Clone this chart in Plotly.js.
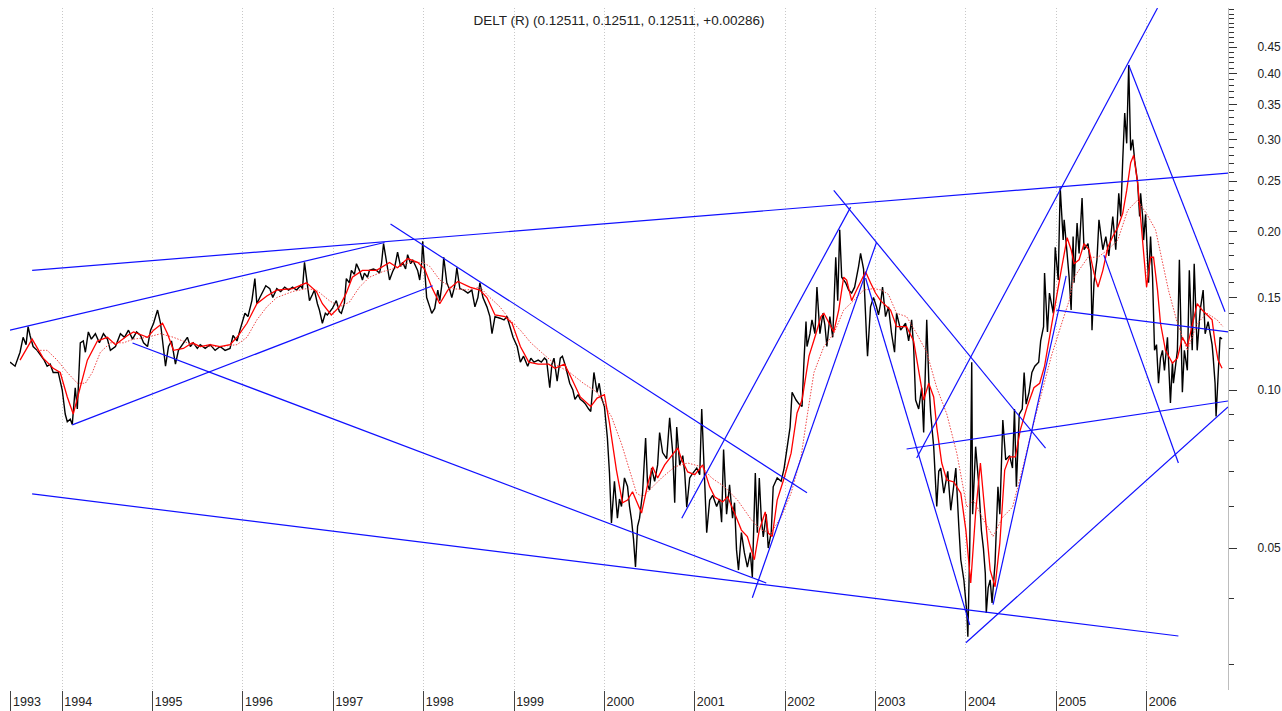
<!DOCTYPE html>
<html><head><meta charset="utf-8">
<script src="https://cdn.plot.ly/plotly-3.0.1.min.js"></script>
<style>html,body{margin:0;padding:0;background:#fff}#chart{width:1282px;height:711px}</style>
</head><body><div id="chart"></div>
<script>
// ---- DATA (time in decimal years, value) ----
const title = 'DELT (R) (0.12511, 0.12511, 0.12511, +0.00286)';
const yearLabels = ['1993','1994','1995','1996','1997','1998','1999','2000','2001','2002','2003','2004','2005','2006'];
const yearTickVals = [1993.433,1994,1995,1996,1997,1998,1999,2000,2001,2002,2003,2004,2005,2006];
const yMajorTicks = [0.05,0.10,0.15,0.20,0.25,0.30,0.35,0.40,0.45];
const yMinorTicks = [0.03,0.04,0.06,0.07,0.08,0.09,0.11,0.12,0.13,0.14,0.16,0.17,0.18,0.19,0.21,0.22,0.23,0.24,0.26,0.27,0.28,0.29,0.31,0.32,0.33,0.34,0.36,0.37,0.38,0.39,0.41,0.42,0.43,0.44,0.46,0.47,0.48,0.49,0.50,0.51,0.52,0.53];

const px1993 = [[1993.422,.113],[1993.478,.111],[1993.533,.118],[1993.567,.126],[1993.6,.122],[1993.622,.132],[1993.644,.127],[1993.678,.121],[1993.722,.119],[1993.756,.117],[1993.8,.114],[1993.833,.111],[1993.867,.112],[1993.9,.108],[1993.956,.108]];
const px1994 = [[1994.0,.100],[1994.033,.090],[1994.056,.087],[1994.089,.088],[1994.111,.086],[1994.144,.101],[1994.167,.092],[1994.178,.104],[1994.2,.123],[1994.233,.124],[1994.256,.118],[1994.289,.129],[1994.322,.125],[1994.367,.128],[1994.411,.123],[1994.456,.128],[1994.5,.125],[1994.533,.119],[1994.589,.121],[1994.644,.128],[1994.689,.126],[1994.733,.130],[1994.778,.125],[1994.822,.129],[1994.867,.127],[1994.9,.123],[1994.944,.121],[1994.978,.130]];
const px1995 = [[1995.011,.134],[1995.033,.138],[1995.055,.142],[1995.088,.134],[1995.121,.121],[1995.143,.111],[1995.176,.121],[1995.209,.124],[1995.231,.118],[1995.253,.112],[1995.286,.119],[1995.33,.122],[1995.385,.126],[1995.418,.121],[1995.451,.123],[1995.495,.120],[1995.527,.122],[1995.582,.120],[1995.637,.122],[1995.692,.119],[1995.747,.121],[1995.802,.119],[1995.857,.120],[1995.89,.127],[1995.934,.124],[1995.967,.130]];
const px1996 = [[1996.022,.140],[1996.055,.138],[1996.099,.148],[1996.132,.163],[1996.154,.146],[1996.187,.150],[1996.22,.154],[1996.253,.158],[1996.297,.156],[1996.33,.150],[1996.374,.156],[1996.418,.154],[1996.462,.157],[1996.505,.155],[1996.549,.157],[1996.593,.155],[1996.637,.158],[1996.659,.156],[1996.681,.175],[1996.714,.160],[1996.736,.148],[1996.769,.152],[1996.791,.155],[1996.824,.146],[1996.846,.142],[1996.879,.134],[1996.912,.140],[1996.934,.139],[1996.967,.141],[1996.989,.143]];
const px1997 = [[1997.033,.148],[1997.067,.141],[1997.089,.140],[1997.122,.146],[1997.144,.163],[1997.178,.160],[1997.2,.169],[1997.233,.166],[1997.256,.174],[1997.289,.169],[1997.322,.162],[1997.344,.167],[1997.378,.164],[1997.4,.169],[1997.444,.170],[1997.478,.169],[1997.511,.167],[1997.533,.174],[1997.556,.190],[1997.589,.175],[1997.622,.162],[1997.656,.168],[1997.678,.171],[1997.711,.183],[1997.744,.172],[1997.767,.175],[1997.8,.170],[1997.822,.181],[1997.856,.174],[1997.878,.177],[1997.911,.172],[1997.933,.169],[1997.956,.162],[1997.978,.175],[1997.989,.192]];
const px1998 = [[1998.011,.170],[1998.033,.150],[1998.067,.144],[1998.089,.140],[1998.122,.143],[1998.156,.155],[1998.178,.148],[1998.2,.158],[1998.222,.179],[1998.256,.160],[1998.289,.155],[1998.311,.150],[1998.344,.158],[1998.367,.171],[1998.4,.156],[1998.444,.155],[1998.489,.153],[1998.533,.155],[1998.567,.144],[1998.6,.150],[1998.622,.160],[1998.656,.150],[1998.7,.144],[1998.733,.138],[1998.756,.128],[1998.789,.138],[1998.844,.137],[1998.889,.136],[1998.922,.138],[1998.956,.132],[1998.989,.126]];
const px1999 = [[1999.035,.121],[1999.07,.113],[1999.105,.116],[1999.151,.111],[1999.186,.115],[1999.221,.113],[1999.267,.114],[1999.302,.113],[1999.337,.115],[1999.36,.114],[1999.395,.101],[1999.419,.112],[1999.442,.115],[1999.477,.104],[1999.512,.115],[1999.535,.116],[1999.57,.111],[1999.616,.103],[1999.651,.100],[1999.674,.096],[1999.709,.098],[1999.733,.096],[1999.767,.095],[1999.791,.094],[1999.826,.092],[1999.849,.091],[1999.884,.108],[1999.919,.099],[1999.942,.103],[1999.965,.097]];
const px2000 = [[2000.0,.093],[2000.033,.081],[2000.056,.0695],[2000.078,.0558],[2000.111,.067],[2000.144,.057],[2000.167,.062],[2000.189,.060],[2000.222,.068],[2000.256,.0655],[2000.278,.060],[2000.3,.0566],[2000.322,.052],[2000.344,.046],[2000.367,.055],[2000.389,.057],[2000.422,.0636],[2000.456,.081],[2000.478,.066],[2000.5,.0645],[2000.522,.071],[2000.556,.067],[2000.589,.072],[2000.611,.083],[2000.644,.076],[2000.689,.074],[2000.722,.0885],[2000.756,.076],[2000.778,.061],[2000.8,.085],[2000.833,.072],[2000.867,.075],[2000.889,.0695],[2000.911,.0598],[2000.944,.068],[2000.967,.069]];
const px2001 = [[2001.022,.071],[2001.055,.069],[2001.077,.092],[2001.11,.066],[2001.132,.0535],[2001.165,.0617],[2001.198,.063],[2001.242,.060],[2001.275,.062],[2001.297,.056],[2001.319,.077],[2001.352,.058],[2001.385,.066],[2001.418,.057],[2001.44,.061],[2001.462,.0496],[2001.484,.0454],[2001.516,.0535],[2001.549,.049],[2001.582,.046],[2001.615,.049],[2001.637,.044],[2001.67,.0695],[2001.692,.0535],[2001.714,.068],[2001.736,.057],[2001.758,.0525],[2001.791,.058],[2001.813,.050],[2001.846,.0535],[2001.868,.0654],[2001.912,.068],[2001.956,.067],[2001.989,.071]];
const px2002 = [[2002.022,.078],[2002.055,.085],[2002.077,.099],[2002.121,.0957],[2002.154,.094],[2002.187,.093],[2002.209,.114],[2002.231,.135],[2002.242,.121],[2002.275,.128],[2002.297,.136],[2002.33,.128],[2002.352,.157],[2002.385,.128],[2002.418,.140],[2002.44,.133],[2002.462,.121],[2002.495,.138],[2002.527,.126],[2002.56,.179],[2002.582,.148],[2002.604,.202],[2002.626,.164],[2002.67,.160],[2002.703,.155],[2002.736,.153],[2002.769,.157],[2002.791,.164],[2002.813,.172],[2002.835,.182],[2002.868,.170],[2002.901,.126],[2002.912,.116],[2002.945,.144],[2002.978,.150]];
const px2003 = [[2003.011,.144],[2003.033,.139],[2003.056,.146],[2003.078,.157],[2003.111,.138],[2003.144,.144],[2003.178,.128],[2003.211,.118],[2003.233,.140],[2003.278,.130],[2003.333,.134],[2003.367,.124],[2003.4,.136],[2003.422,.121],[2003.444,.0957],[2003.478,.092],[2003.511,.101],[2003.533,.083],[2003.567,.136],[2003.589,.105],[2003.611,.090],[2003.644,.078],[2003.678,.060],[2003.7,.070],[2003.722,.071],[2003.756,.0636],[2003.8,.070],[2003.833,.059],[2003.867,.066],[2003.889,.071],[2003.922,.055],[2003.944,.0475],[2003.978,.0435]];
const px2004 = [[2004.011,.0376],[2004.022,.0339],[2004.043,.050],[2004.065,.113],[2004.075,.058],[2004.108,.078],[2004.14,.067],[2004.172,.054],[2004.194,.050],[2004.215,.0448],[2004.226,.0376],[2004.247,.042],[2004.269,.0435],[2004.29,.0393],[2004.323,.0468],[2004.355,.0654],[2004.376,.058],[2004.409,.0877],[2004.441,.0736],[2004.484,.075],[2004.516,.071],[2004.538,.092],[2004.559,.0654],[2004.591,.090],[2004.624,.092],[2004.645,.108],[2004.667,.094],[2004.699,.099],[2004.731,.108],[2004.763,.111],[2004.806,.113],[2004.828,.124],[2004.86,.132],[2004.871,.167],[2004.903,.129],[2004.925,.153],[2004.968,.140],[2004.989,.187]];
const px2005 = [[2005.022,.162],[2005.044,.243],[2005.077,.193],[2005.088,.211],[2005.121,.185],[2005.143,.164],[2005.165,.142],[2005.187,.196],[2005.198,.160],[2005.231,.208],[2005.253,.182],[2005.286,.232],[2005.308,.185],[2005.352,.190],[2005.385,.169],[2005.396,.130],[2005.418,.160],[2005.451,.177],[2005.473,.211],[2005.516,.185],[2005.549,.196],[2005.582,.180],[2005.626,.214],[2005.659,.185],[2005.692,.237],[2005.714,.214],[2005.736,.274],[2005.758,.337],[2005.78,.295],[2005.802,.416],[2005.824,.286],[2005.846,.300],[2005.868,.274],[2005.901,.248],[2005.923,.214],[2005.934,.237],[2005.956,.214],[2005.967,.193],[2005.989,.216]];
const px2006 = [[2006.022,.160],[2006.044,.196],[2006.066,.164],[2006.088,.119],[2006.11,.122],[2006.132,.103],[2006.154,.115],[2006.176,.119],[2006.198,.109],[2006.231,.126],[2006.264,.0945],[2006.286,.113],[2006.297,.103],[2006.341,.119],[2006.363,.177],[2006.396,.099],[2006.418,.119],[2006.451,.109],[2006.473,.169],[2006.505,.119],[2006.527,.174],[2006.56,.119],[2006.593,.142],[2006.626,.155],[2006.648,.128],[2006.681,.135],[2006.725,.122],[2006.736,.116],[2006.758,.103],[2006.769,.089],[2006.791,.106],[2006.813,.126],[2006.835,.1251]];

// short moving average (solid red)
const maFastA = [[1993.533,.114],[1993.667,.125],[1993.789,.115],[1993.9,.110],[1993.978,.108],[1994.056,.097],[1994.122,.090],[1994.2,.101],[1994.278,.114],[1994.389,.124],[1994.5,.126],[1994.589,.122],[1994.722,.127],[1994.789,.129],[1994.944,.126],[1995.011,.130],[1995.11,.134],[1995.165,.128],[1995.231,.119],[1995.341,.120],[1995.44,.123],[1995.527,.121],[1995.637,.122],[1995.747,.121],[1995.857,.122],[1995.934,.126],[1996.044,.134],[1996.154,.146],[1996.264,.151],[1996.374,.155],[1996.549,.156],[1996.703,.160],[1996.813,.154],[1996.879,.146],[1996.978,.139],[1997.067,.144],[1997.144,.153],[1997.211,.164],[1997.322,.169],[1997.478,.169],[1997.622,.175],[1997.711,.171],[1997.822,.178],[1997.933,.175],[1998.011,.170],[1998.089,.157],[1998.178,.146],[1998.267,.155],[1998.378,.161],[1998.511,.157],[1998.622,.155],[1998.7,.150],[1998.789,.139],[1998.9,.138],[1998.978,.134],[1999.07,.121],[1999.163,.113],[1999.267,.112],[1999.384,.112],[1999.453,.110],[1999.558,.112],[1999.628,.106],[1999.733,.097],[1999.849,.093],[1999.919,.0965]];
const maFastB = [[2000.0,.098],[2000.056,.0865],[2000.133,.0704],[2000.2,.061],[2000.256,.0617],[2000.311,.064],[2000.411,.0583],[2000.478,.066],[2000.533,.0714],[2000.589,.068],[2000.667,.072],[2000.744,.075],[2000.811,.0776],[2000.856,.0736],[2000.922,.0698],[2001.0,.069],[2001.088,.072],[2001.165,.0654],[2001.22,.0626],[2001.308,.0612],[2001.363,.0626],[2001.44,.0583],[2001.516,.0541],[2001.582,.0526],[2001.659,.0475],[2001.714,.0541],[2001.78,.0586],[2001.813,.0534],[2001.857,.0526],[2001.912,.0617],[2001.989,.068],[2002.066,.0758],[2002.132,.0904],[2002.187,.0957],[2002.264,.116],[2002.341,.128],[2002.396,.138],[2002.429,.140],[2002.484,.134],[2002.538,.129],[2002.593,.142],[2002.648,.164],[2002.681,.162],[2002.736,.148],[2002.791,.155],[2002.89,.168],[2002.945,.160],[2003.0,.153],[2003.056,.148],[2003.089,.146],[2003.167,.142],[2003.233,.132],[2003.344,.132],[2003.422,.124],[2003.5,.103],[2003.533,.0957],[2003.589,.103],[2003.644,.097],[2003.678,.085],[2003.733,.0726],[2003.789,.0674],[2003.867,.0668],[2003.944,.0636],[2004.0,.0541],[2004.054,.0429],[2004.108,.0583],[2004.161,.0726],[2004.215,.0583],[2004.269,.0454],[2004.323,.0422],[2004.376,.0511],[2004.43,.0704],[2004.484,.0746],[2004.548,.0746],[2004.602,.0839],[2004.677,.0928],[2004.753,.101],[2004.817,.103],[2004.871,.111],[2004.946,.132],[2005.0,.148],[2005.055,.169],[2005.121,.195],[2005.165,.185],[2005.198,.174],[2005.253,.177],[2005.308,.190],[2005.363,.185],[2005.418,.167],[2005.462,.157],[2005.516,.169],[2005.571,.187],[2005.626,.196],[2005.681,.204],[2005.736,.217],[2005.78,.240],[2005.824,.271],[2005.857,.280],[2005.901,.248],[2005.934,.211],[2005.967,.182],[2006.0,.157],[2006.044,.179],[2006.077,.179],[2006.121,.155],[2006.154,.134],[2006.209,.119],[2006.286,.1125],[2006.341,.115],[2006.396,.126],[2006.451,.121],[2006.505,.132],[2006.56,.146],[2006.615,.142],[2006.67,.139],[2006.725,.136],[2006.758,.123],[2006.791,.114],[2006.835,.110]];

// long moving average (dotted red)
const maSlowA = [[1993.722,.119],[1993.833,.119],[1993.944,.114],[1994.056,.108],[1994.167,.103],[1994.256,.103],[1994.333,.108],[1994.422,.118],[1994.533,.123],[1994.678,.123],[1994.789,.125],[1994.944,.126],[1995.088,.128],[1995.231,.126],[1995.385,.123],[1995.527,.121],[1995.747,.121],[1995.934,.122],[1996.044,.126],[1996.154,.136],[1996.264,.144],[1996.374,.150],[1996.549,.154],[1996.703,.156],[1996.813,.155],[1996.956,.148],[1997.067,.144],[1997.178,.147],[1997.289,.157],[1997.4,.164],[1997.544,.168],[1997.7,.171],[1997.844,.175],[1997.989,.175],[1998.067,.172],[1998.178,.162],[1998.322,.156],[1998.478,.155],[1998.622,.157],[1998.733,.150],[1998.844,.144],[1998.956,.136],[1999.07,.130],[1999.186,.123],[1999.302,.118],[1999.453,.112],[1999.616,.108],[1999.767,.103],[1999.919,.099]];
const maSlowB = [[2000.078,.089],[2000.189,.079],[2000.278,.0704],[2000.356,.0636],[2000.422,.0626],[2000.5,.0645],[2000.633,.068],[2000.778,.0714],[2000.922,.0726],[2001.077,.0714],[2001.187,.068],[2001.33,.0654],[2001.473,.0617],[2001.626,.0566],[2001.736,.0541],[2001.846,.0535],[2001.956,.0573],[2002.066,.0636],[2002.176,.0746],[2002.242,.0888],[2002.319,.108],[2002.429,.121],[2002.538,.128],[2002.648,.142],[2002.758,.148],[2002.868,.155],[2002.978,.156],[2003.067,.155],[2003.144,.152],[2003.233,.140],[2003.344,.138],[2003.456,.128],[2003.567,.118],[2003.678,.101],[2003.789,.090],[2003.9,.0758],[2004.011,.0598],[2004.086,.0617],[2004.194,.0566],[2004.301,.0526],[2004.409,.0573],[2004.516,.0598],[2004.624,.0704],[2004.731,.0839],[2004.839,.099],[2004.946,.116],[2005.055,.133],[2005.143,.148],[2005.198,.164],[2005.352,.179],[2005.462,.179],[2005.571,.185],[2005.681,.193],[2005.791,.220],[2005.901,.230],[2006.011,.215],[2006.099,.202],[2006.176,.174],[2006.242,.155],[2006.341,.134],[2006.451,.119],[2006.56,.134],[2006.67,.140],[2006.78,.136],[2006.846,.132]];

// hand-drawn trend lines: [t0, v0, t1, v1]
const trendLines = [
  [1993.667,.169,2007.033,.260],
  [1993.422,.130,1997.567,.191],
  [1994.111,.0858,1998.100,.158],
  [1994.778,.1229,2001.791,.0429],
  [1993.667,.0634,2006.352,.0340],
  [1997.633,.207,2002.242,.0637],
  [2000.856,.0570,2002.725,.223],
  [2001.637,.0402,2003.011,.191],
  [2002.538,.240,2004.882,.0775],
  [2002.890,.1634,2004.043,.0357],
  [2003.456,.0742,2006.121,.534],
  [2004.301,.0390,2005.110,.1649],
  [2004.000,.0330,2006.901,.0928],
  [2003.344,.0772,2006.901,.0953],
  [2005.000,.142,2006.901,.1290],
  [2005.802,.416,2006.868,.141],
  [2005.527,.1807,2006.352,.0726]
];

// ---- BUILD ----
const price = [].concat(px1993,px1994,px1995,px1996,px1997,px1998,px1999,px2000,px2001,px2002,px2003,px2004,px2005,px2006);
const maFast = maFastA.concat(maFastB);
const maSlow = maSlowA.concat(maSlowB);
const xs = a => a.map(p => p[0]);
const ys = a => a.map(p => p[1]);
const FONT = 'Liberation Sans, Arial, sans-serif';

const traces = [
  {x: xs(price), y: ys(price), type:'scatter', mode:'lines', line:{color:'#000', width:1.4}, hoverinfo:'skip'},
  {x: xs(maSlow), y: ys(maSlow), type:'scatter', mode:'lines', line:{color:'rgb(240,70,70)', width:1, dash:'1.5px,1.5px'}, hoverinfo:'skip'},
  {x: xs(maFast), y: ys(maFast), type:'scatter', mode:'lines', line:{color:'#ff0000', width:1.3}, hoverinfo:'skip'}
];
trendLines.forEach(l => traces.push({x:[l[0],l[2]], y:[l[1],l[3]], type:'scatter', mode:'lines', line:{color:'#1010ff', width:1.2}, hoverinfo:'skip'}));

const layout = {
  width:1282, height:711,
  margin:{l:10, r:54, t:8, b:21},
  paper_bgcolor:'#fff', plot_bgcolor:'#fff',
  showlegend:false, hovermode:false,
  font:{family:FONT, color:'#222'},
  title:{text:title, x:0.5, xref:'paper', xanchor:'center', y:1-20/711, yref:'container', yanchor:'middle', font:{family:FONT, size:13.5, color:'#222'}},
  xaxis:{
    type:'linear', range:[1993.422, 2006.901],
    tickmode:'array', tickvals:yearTickVals, ticktext:yearLabels,
    ticks:'outside', ticklen:20, tickwidth:1, tickcolor:'#444',
    showgrid:true, gridcolor:'#c8c8c8', griddash:'1px,2px', gridwidth:1,
    zeroline:false, showline:false,
    tickfont:{family:FONT, size:12.5, color:'#222'},
    ticklabelshift:16, ticklabelstandoff:-20,
    fixedrange:true
  },
  yaxis:{
    type:'log', side:'right', range:[-1.5714, -0.2724],
    tickmode:'array', tickvals:yMajorTicks, tickformat:'.2f',
    ticks:'outside', ticklen:8, tickwidth:1, tickcolor:'#333',
    showline:true, linecolor:'#bdbdbd', linewidth:1,
    showgrid:false, zeroline:false,
    tickfont:{family:FONT, size:12, color:'#222'},
    ticklabelstandoff:18,
    minor:{tickmode:'array', tickvals:yMinorTicks, ticks:'outside', ticklen:5, tickwidth:1, tickcolor:'#333', showgrid:false},
    fixedrange:true
  }
};
Plotly.newPlot('chart', traces, layout, {displayModeBar:false, staticPlot:true});
</script>
</body></html>
